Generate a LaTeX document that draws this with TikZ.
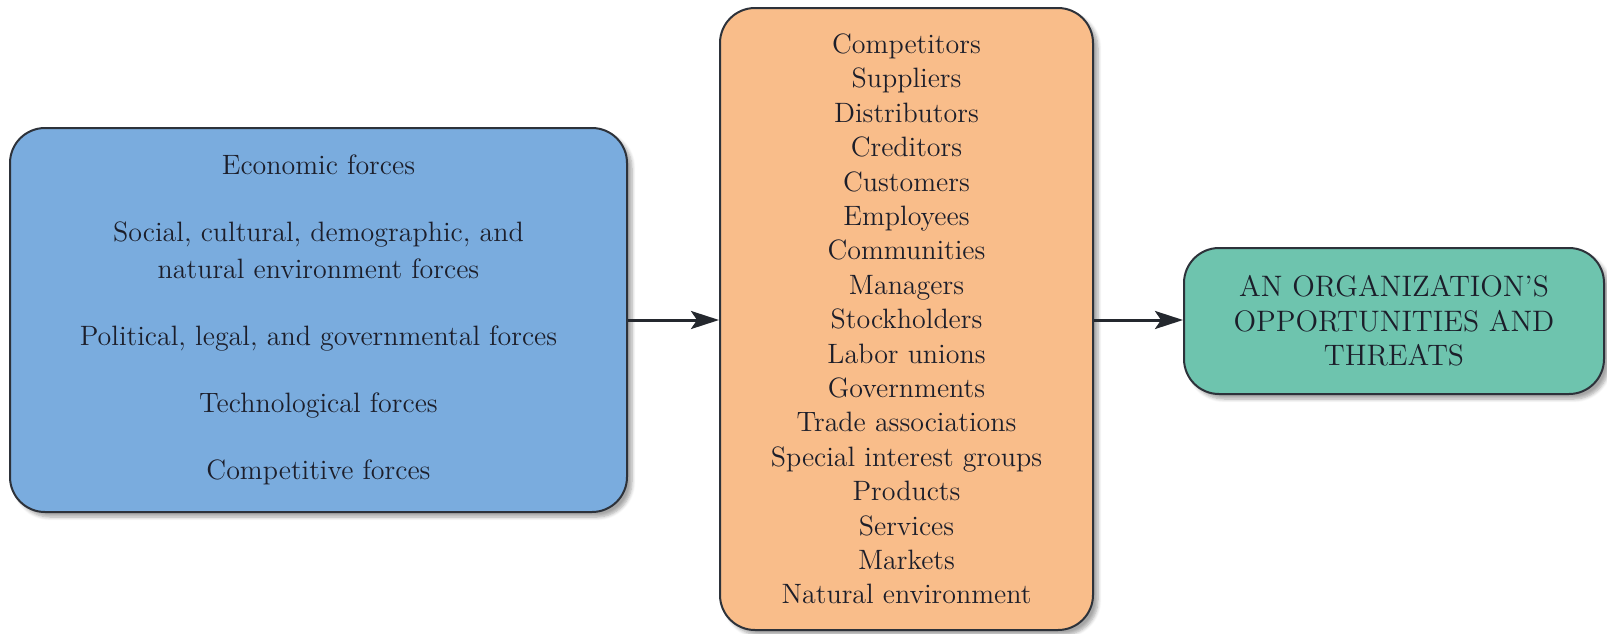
\documentclass[tikz,border=0pt]{standalone}
\usetikzlibrary{arrows.meta,shadows.blur}

\definecolor{envblue}{RGB}{122,172,222}
\definecolor{envorange}{RGB}{249,189,138}
\definecolor{envgreen}{RGB}{110,196,174}
\definecolor{boxline}{RGB}{45,50,58}
\definecolor{boxtext}{RGB}{28,30,42}

\tikzset{every picture/.style={line width=1pt}}
\tikzset{
  envbox/.style={draw=boxline, line width=1pt, rounded corners=17.5pt,
    align=center, text=boxtext, inner sep=0pt,
    blur shadow={shadow xshift=2.5pt, shadow yshift=-2.5pt, shadow blur steps=6, shadow opacity=35}},
  flow/.style={draw=boxline!80!black, line width=1.5pt, -{Stealth[length=14pt,width=9pt,inset=3pt]}}
}

\begin{document}
\begin{tikzpicture}[x=0.5pt,y=0.5pt,yscale=-1,xscale=1]
		\useasboundingbox (0,0) rectangle (1607,633);
		
		% general environment
		\node [envbox, fill=envblue, minimum width=308.5pt, minimum height=192pt,
		  font=\fontsize{14}{18.5}\selectfont] (general) at (318.5,320)
		  {Economic forces\\[15pt]
		   Social, cultural, demographic, and\\natural environment forces\\[15pt]
		   Political, legal, and governmental forces\\[15pt]
		   Technological forces\\[15pt]
		   Competitive forces};
		% industry environment
		\node [envbox, fill=envorange, minimum width=186.5pt, minimum height=311pt,
		  font=\fontsize{14}{17.2}\selectfont] (industry) at (906.5,319)
		  {Competitors\\Suppliers\\Distributors\\Creditors\\Customers\\Employees\\Communities\\Managers\\Stockholders\\Labor unions\\Governments\\Trade associations\\Special interest groups\\Products\\Services\\Markets\\Natural environment};
		% result
		\node [envbox, fill=envgreen, minimum width=210pt, minimum height=73pt,
		  font=\fontsize{14.8}{17.25}\selectfont] (result) at (1394,321)
		  {AN ORGANIZATION'S\\OPPORTUNITIES AND\\THREATS};
		
		\draw [flow] (general.east |- 0,320) -- (industry.west |- 0,320);
		\draw [flow] (industry.east |- 0,320) -- (result.west |- 0,320);
		
\end{tikzpicture}
\end{document}
